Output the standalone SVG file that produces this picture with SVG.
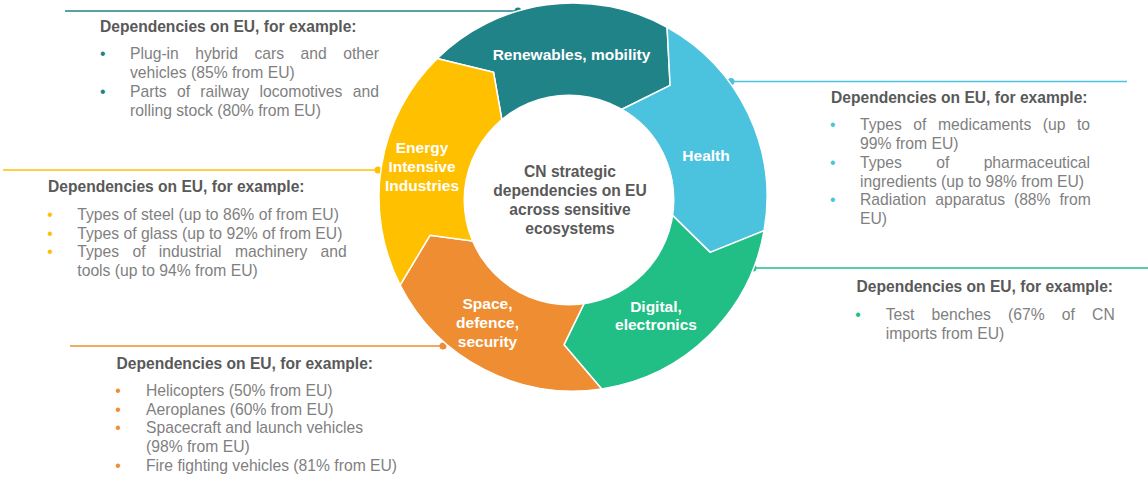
<svg xmlns="http://www.w3.org/2000/svg" width="1148" height="477" viewBox="0 0 1148 477">
<style>
text{font-family:"Liberation Sans",Arial,sans-serif}
.h{font-size:15.6px;font-weight:bold;fill:#595959}
.b{font-size:15.7px;fill:#7f7f7f}
.lbl{font-size:15.5px;font-weight:bold;fill:#ffffff;text-anchor:middle}
.ctr{font-size:15.6px;font-weight:bold;fill:#595959;text-anchor:middle}
.seg{stroke:#ffffff;stroke-width:1.5;stroke-linejoin:round}
.ln{stroke-width:1.6;fill:none}
.teal{fill:#1f8388}.tealS{stroke:#1f8388}
.blue{fill:#4cc3de}.blueS{stroke:#4cc3de}
.green{fill:#21be86}.greenS{stroke:#21be86}
.orange{fill:#ee8d31}.orangeS{stroke:#ee8d31}
.yellow{fill:#ffc000}.yellowS{stroke:#ffc000}
</style>
<rect width="1148" height="477" fill="#ffffff"/>
<g id="connectors">
<line class="ln tealS" x1="65" y1="11" x2="518" y2="11"/><circle class="teal" cx="518" cy="11" r="3.5"/>
<line class="ln blueS" x1="731" y1="81.5" x2="1127" y2="81.5"/><circle class="blue" cx="731" cy="81.5" r="3.5"/>
<line class="ln yellowS" x1="3" y1="170" x2="378" y2="170"/><circle class="yellow" cx="378" cy="170" r="3.5"/>
<line class="ln greenS" x1="753" y1="268" x2="1148" y2="268"/><circle class="green" cx="753" cy="268" r="3.5"/>
<line class="ln orangeS" x1="70" y1="346" x2="443" y2="346"/><circle class="orange" cx="443" cy="346" r="3.5"/>
</g>
<g id="seg-renewables">
<path class="seg teal" d="M437,58.6 A194,194 0 0 1 667.1,27.3 L670.1,85.3 L621.5,109.5 A100,100 0 0 0 502.9,125.7 L493.5,72.2 Z"/>
<text class="lbl" x="571.5" y="60">Renewables, mobility</text>
</g>
<g id="seg-health">
<path class="seg blue" d="M667.1,27.3 A194,194 0 0 1 764.1,230.7 L710.2,252.4 L671.5,214.4 A100,100 0 0 0 621.5,109.5 L670.1,85.3 Z"/>
<text class="lbl" x="706" y="161">Health</text>
</g>
<g id="seg-digital">
<path class="seg green" d="M764.1,230.7 A194,194 0 0 1 601.7,388.9 L564,344.7 L587.8,295.9 A100,100 0 0 0 671.5,214.4 L710.2,252.4 Z"/>
<text class="lbl" x="656" y="311.5">Digital,</text>
<text class="lbl" x="656" y="330">electronics</text>
</g>
<g id="seg-space">
<path class="seg orange" d="M601.7,388.9 A194,194 0 0 1 400.1,285.1 L430,235.3 L483.9,242.4 A100,100 0 0 0 587.8,295.9 L564,344.7 Z"/>
<text class="lbl" x="487.5" y="309">Space,</text>
<text class="lbl" x="487.5" y="328">defence,</text>
<text class="lbl" x="487.5" y="347">security</text>
</g>
<g id="seg-energy">
<path class="seg yellow" d="M400.1,285.1 A194,194 0 0 1 437,58.6 L493.5,72.2 L502.9,125.7 A100,100 0 0 0 483.9,242.4 L430,235.3 Z"/>
<text class="lbl" x="422" y="153">Energy</text>
<text class="lbl" x="422" y="172">Intensive</text>
<text class="lbl" x="422" y="191">Industries</text>
</g>
<g id="center">
<circle cx="569" cy="200" r="105.5" fill="#ffffff"/>
<text class="ctr" x="570" y="177">CN strategic</text>
<text class="ctr" x="570" y="196">dependencies on EU</text>
<text class="ctr" x="570" y="215">across sensitive</text>
<text class="ctr" x="570" y="234">ecosystems</text>
</g>
<g id="box-renewables">
<text class="h" x="100" y="32">Dependencies on EU, for example:</text>
<text class="b teal" x="100" y="59">•</text>
<text class="b" x="130" y="59" word-spacing="12.1">Plug-in hybrid cars and other</text>
<text class="b" x="130" y="78">vehicles (85% from EU)</text>
<text class="b teal" x="100" y="97">•</text>
<text class="b" x="130" y="97" word-spacing="5.98">Parts of railway locomotives and</text>
<text class="b" x="130" y="116">rolling stock (80% from EU)</text>
</g>
<g id="box-health">
<text class="h" x="831" y="103">Dependencies on EU, for example:</text>
<text class="b blue" x="830" y="130">•</text>
<text class="b" x="860" y="130" word-spacing="7.14">Types of medicaments (up to</text>
<text class="b" x="860" y="149">99% from EU)</text>
<text class="b blue" x="830" y="168">•</text>
<text class="b" x="860" y="168" word-spacing="29.99">Types of pharmaceutical</text>
<text class="b" x="860" y="187">ingredients (up to 98% from EU)</text>
<text class="b blue" x="830" y="205">•</text>
<text class="b" x="860" y="205" word-spacing="4.57">Radiation apparatus (88% from</text>
<text class="b" x="860" y="224">EU)</text>
</g>
<g id="box-energy">
<text class="h" x="48" y="192">Dependencies on EU, for example:</text>
<text class="b yellow" x="47.3" y="220">•</text>
<text class="b" x="77.3" y="220">Types of steel (up to 86% of from EU)</text>
<text class="b yellow" x="47.3" y="238.5">•</text>
<text class="b" x="77.3" y="238.5">Types of glass (up to 92% of from EU)</text>
<text class="b yellow" x="47.3" y="257">•</text>
<text class="b" x="77.3" y="257" word-spacing="8.93">Types of industrial machinery and</text>
<text class="b" x="77.3" y="276">tools (up to 94% from EU)</text>
</g>
<g id="box-digital">
<text class="h" x="856.5" y="292">Dependencies on EU, for example:</text>
<text class="b green" x="855.3" y="320">•</text>
<text class="b" x="885.7" y="320" word-spacing="12.8">Test benches (67% of CN</text>
<text class="b" x="885.7" y="338.5">imports from EU)</text>
</g>
<g id="box-space">
<text class="h" x="116.5" y="369">Dependencies on EU, for example:</text>
<text class="b orange" x="115.3" y="396">•</text>
<text class="b" x="146" y="396">Helicopters (50% from EU)</text>
<text class="b orange" x="115.3" y="414.5">•</text>
<text class="b" x="146" y="414.5">Aeroplanes (60% from EU)</text>
<text class="b orange" x="115.3" y="433">•</text>
<text class="b" x="146" y="433">Spacecraft and launch vehicles</text>
<text class="b" x="146" y="452">(98% from EU)</text>
<text class="b orange" x="115.3" y="470.5">•</text>
<text class="b" x="146" y="470.5">Fire fighting vehicles (81% from EU)</text>
</g>
</svg>
